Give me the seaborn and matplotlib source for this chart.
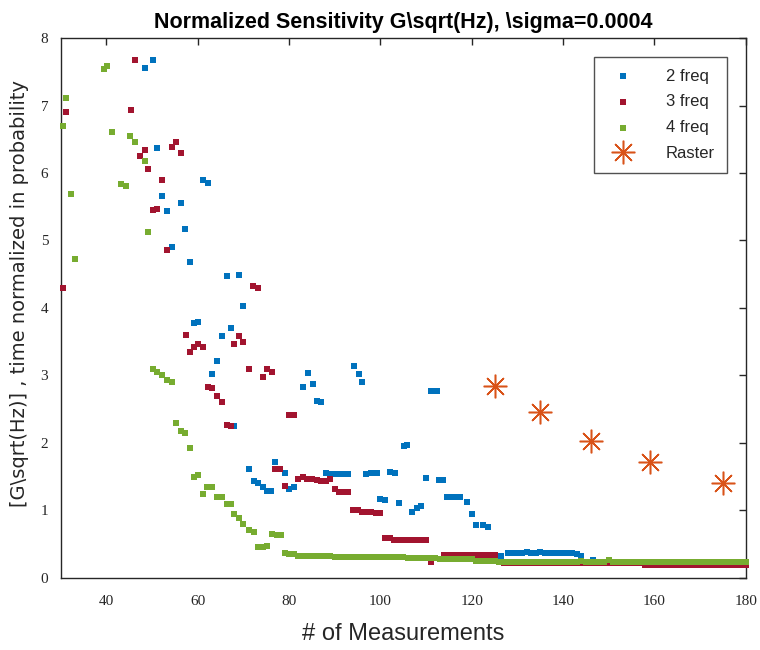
import matplotlib
matplotlib.use('Agg')
import matplotlib.pyplot as plt
import seaborn as sns

# 2 freq
blue_x = [48.4, 50.1, 51.1, 52.2, 53.2, 54.3, 56.3, 57.3, 58.4, 59.1,
          60.1, 61.1, 62.2, 63.2, 64.2, 65.2, 66.3, 67.3, 67.9, 69.0,
          70.0, 71.2, 72.2, 73.2, 74.2, 75.2, 76.1, 77.0, 79.0, 80.0,
          81.0, 83.1, 84.2, 85.2, 86.2, 86.9, 88, 89, 90, 91,
          92, 93, 94.1, 95.2, 95.9, 96.9, 98.0, 99.2, 100.0, 101.0,
          102.1, 103.1, 104.1, 105.1, 105.9, 106.9, 107.9, 108.9, 110.0, 111.0,
          112.3, 112.8, 113.8, 114.6, 115.5, 116.5, 117.5, 118.9, 120.0, 121.0,
          122.5, 123.6, 125.5, 126.5, 128, 129, 130, 131, 132, 133,
          134, 135, 136, 137, 138, 139, 140, 141, 142, 143,
          144, 146.5]
blue_y = [7.56, 7.67, 6.37, 5.66, 5.43, 4.91, 5.55, 5.17, 4.68, 3.77,
          3.79, 5.90, 5.85, 3.02, 3.21, 3.58, 4.47, 3.70, 2.25, 4.49,
          4.03, 1.62, 1.44, 1.41, 1.34, 1.29, 1.29, 1.71, 1.55, 1.31,
          1.34, 2.83, 3.04, 2.88, 2.62, 2.60, 1.56, 1.54, 1.54, 1.54,
          1.54, 1.54, 3.14, 3.02, 2.90, 1.54, 1.55, 1.55, 1.17, 1.15,
          1.57, 1.55, 1.11, 1.95, 1.97, 0.97, 1.04, 1.06, 1.48, 2.77,
          2.77, 1.45, 1.45, 1.20, 1.20, 1.20, 1.20, 1.13, 0.94, 0.78,
          0.78, 0.75, 0.32, 0.32, 0.37, 0.37, 0.37, 0.37, 0.39, 0.37,
          0.37, 0.39, 0.37, 0.37, 0.37, 0.37, 0.37, 0.37, 0.37, 0.36,
          0.33, 0.27]

# 3 freq
red_x = [30.5, 31.1, 45.3, 46.3, 47.3, 48.4, 49.1, 50.1, 51.1, 52.2,
         53.2, 54.3, 55.3, 56.3, 57.4, 58.4, 59.1, 60.1, 61.1, 62.2,
         63.2, 64.2, 65.2, 66.3, 67.3, 67.9, 69.0, 70.0, 71.2, 72.1,
         73.2, 74.2, 75.2, 76.3, 77, 78, 79, 80, 81, 82,
         83, 84, 85, 86, 87, 88, 89, 90, 91, 92,
         93, 94, 95, 96, 97, 98, 99, 100, 101, 102,
         103, 104, 105, 106, 107, 108, 109, 110, 111, 114,
         115, 116, 117, 118, 119, 120, 121, 122, 123, 124,
         125, 127, 128, 129, 130, 131, 132, 133, 134, 135,
         136, 137, 138, 139, 140, 141, 142, 143, 144, 145,
         146, 147, 148, 149, 150, 151, 152, 153, 154, 155,
         156, 157, 158, 159, 160, 161, 162, 163, 164, 165,
         166, 167, 168, 169, 170, 171, 172, 173, 174, 175,
         176, 177, 178, 179, 180]
red_y = [4.29, 6.90, 6.93, 7.67, 6.25, 6.34, 6.06, 5.45, 5.47, 5.90,
         4.86, 6.39, 6.46, 6.30, 3.60, 3.35, 3.42, 3.47, 3.42, 2.83,
         2.81, 2.69, 2.60, 2.27, 2.25, 3.47, 3.58, 3.49, 3.09, 4.33,
         4.29, 2.97, 3.09, 3.05, 1.62, 1.62, 1.36, 2.41, 2.41, 1.47,
         1.50, 1.47, 1.47, 1.45, 1.43, 1.43, 1.47, 1.31, 1.27, 1.27,
         1.27, 1.01, 1.01, 0.98, 0.98, 0.98, 0.96, 0.96, 0.59, 0.59,
         0.56, 0.56, 0.56, 0.56, 0.56, 0.56, 0.56, 0.56, 0.24, 0.34,
         0.34, 0.34, 0.34, 0.34, 0.34, 0.34, 0.34, 0.34, 0.34, 0.34,
         0.34, 0.22, 0.22, 0.22, 0.22, 0.22, 0.22, 0.22, 0.22, 0.22,
         0.22, 0.22, 0.22, 0.22, 0.22, 0.22, 0.22, 0.22, 0.22, 0.22,
         0.22, 0.22, 0.22, 0.22, 0.22, 0.22, 0.22, 0.22, 0.22, 0.22,
         0.22, 0.22, 0.19, 0.19, 0.19, 0.19, 0.19, 0.19, 0.19, 0.19,
         0.19, 0.19, 0.19, 0.19, 0.19, 0.19, 0.19, 0.19, 0.19, 0.19,
         0.19, 0.19, 0.19, 0.19, 0.19]

# 4 freq
green_x = [30.5, 31.1, 32.2, 33.2, 39.5, 40.1, 41.2, 43.2, 44.3, 45.2,
           46.3, 48.4, 49.1, 50.1, 51.1, 52.1, 53.2, 54.3, 55.3, 56.3,
           57.3, 58.4, 59.1, 60.1, 61.1, 62.1, 63.2, 64.2, 65.2, 66.3,
           67.3, 67.9, 69.0, 70.0, 71.2, 72.2, 73.2, 74.2, 75.2, 76.3,
           77.3, 78.3, 79.0, 80.0, 81.0, 82, 83, 84, 85, 86,
           87, 88, 89, 90, 91, 92, 93, 94, 95, 96,
           97, 98, 99, 100, 101, 102, 103, 104, 105, 106,
           107, 108, 109, 110, 111, 112, 113, 114, 115, 116,
           117, 118, 119, 120, 121, 122, 123, 124, 125, 126,
           127, 128, 129, 130, 131, 132, 133, 134, 135, 136,
           137, 138, 139, 140, 141, 142, 143, 144, 145, 146,
           147, 148, 149, 150, 151, 152, 153, 154, 155, 156,
           157, 158, 159, 160, 161, 162, 163, 164, 165, 166,
           167, 168, 169, 170, 171, 172, 173, 174, 175, 176,
           177, 178, 179, 180]
green_y = [6.69, 7.11, 5.69, 4.73, 7.54, 7.58, 6.60, 5.83, 5.80, 6.55,
           6.46, 6.18, 5.13, 3.09, 3.05, 3.00, 2.93, 2.90, 2.30, 2.18,
           2.15, 1.92, 1.50, 1.53, 1.24, 1.34, 1.34, 1.20, 1.20, 1.10,
           1.10, 0.94, 0.89, 0.80, 0.71, 0.68, 0.46, 0.45, 0.47, 0.65,
           0.64, 0.64, 0.37, 0.36, 0.35, 0.33, 0.33, 0.33, 0.33, 0.33,
           0.33, 0.33, 0.33, 0.31, 0.31, 0.31, 0.31, 0.31, 0.31, 0.31,
           0.31, 0.31, 0.31, 0.31, 0.31, 0.31, 0.31, 0.31, 0.31, 0.29,
           0.29, 0.29, 0.29, 0.29, 0.29, 0.29, 0.28, 0.28, 0.28, 0.28,
           0.28, 0.28, 0.28, 0.28, 0.25, 0.25, 0.25, 0.25, 0.25, 0.24,
           0.24, 0.24, 0.24, 0.24, 0.24, 0.24, 0.24, 0.24, 0.24, 0.24,
           0.24, 0.24, 0.24, 0.24, 0.24, 0.24, 0.24, 0.25, 0.24, 0.24,
           0.24, 0.24, 0.24, 0.27, 0.24, 0.24, 0.24, 0.24, 0.24, 0.24,
           0.24, 0.24, 0.24, 0.24, 0.24, 0.24, 0.24, 0.24, 0.24, 0.24,
           0.24, 0.24, 0.24, 0.24, 0.24, 0.24, 0.24, 0.24, 0.24, 0.24,
           0.24, 0.24, 0.24, 0.24]

# Raster
raster_x = [125, 135, 146, 159, 175]
raster_y = [2.85, 2.46, 2.03, 1.71, 1.41]

sns.set_style('white')
plt.rcParams['font.family'] = ['Liberation Sans', 'DejaVu Sans']

fig = plt.figure(figsize=(7.6, 6.5), dpi=100)
ax = fig.add_axes([0.080, 0.111, 0.9013, 0.8305])

dark = '#262626'
sq = dict(marker='s', s=16, linewidth=0, ax=ax, clip_on=False, zorder=3)
sns.scatterplot(x=blue_x, y=blue_y, color='#0072BD', label='2 freq', **sq)
sns.scatterplot(x=red_x, y=red_y, color='#A2142F', label='3 freq', **sq)
sns.scatterplot(x=green_x, y=green_y, color='#77AC30', label='4 freq', **sq)
ax.plot(raster_x, raster_y, linestyle='none', marker=(8, 2, 0), markersize=17,
        markeredgewidth=1.1, color='#D95319', label='Raster', zorder=4)

ax.set_xlim(30, 180)
ax.set_ylim(0, 8)
ax.set_xticks([40, 60, 80, 100, 120, 140, 160, 180])
ax.set_yticks([0, 1, 2, 3, 4, 5, 6, 7, 8])
ax.tick_params(direction='in', top=True, right=True, length=5, width=1,
               color=dark, labelcolor=dark, labelsize=11)
ax.tick_params(axis='x', pad=12)
ax.tick_params(axis='y', pad=9)
for lab in ax.get_xticklabels() + ax.get_yticklabels():
    lab.set_family('Liberation Serif')
for sp in ax.spines.values():
    sp.set_visible(True)
    sp.set_color(dark)
    sp.set_linewidth(1.0)

ax.set_title('Normalized Sensitivity G\\sqrt(Hz), \\sigma=0.0004',
             fontsize=15.5, fontweight='bold', color='black', pad=7)
ax.set_xlabel('# of Measurements', fontsize=17, color=dark, labelpad=11)
ax.set_ylabel('[G\\sqrt(Hz)] , time normalized in probability', fontsize=14,
              color=dark, family=['DejaVu Sans'])
ax.yaxis.set_label_coords(-0.047, 0.526)

leg = ax.legend(loc='upper right', bbox_to_anchor=(0.972, 0.965), fontsize=12,
                frameon=True, fancybox=False, borderpad=0.7, labelspacing=0.65,
                handletextpad=1.5, handlelength=2.1, borderaxespad=0,
                markerscale=1.0)
leg.get_frame().set_edgecolor(dark)
leg.get_frame().set_linewidth(1.0)

fig.savefig('out.png', dpi=100)
